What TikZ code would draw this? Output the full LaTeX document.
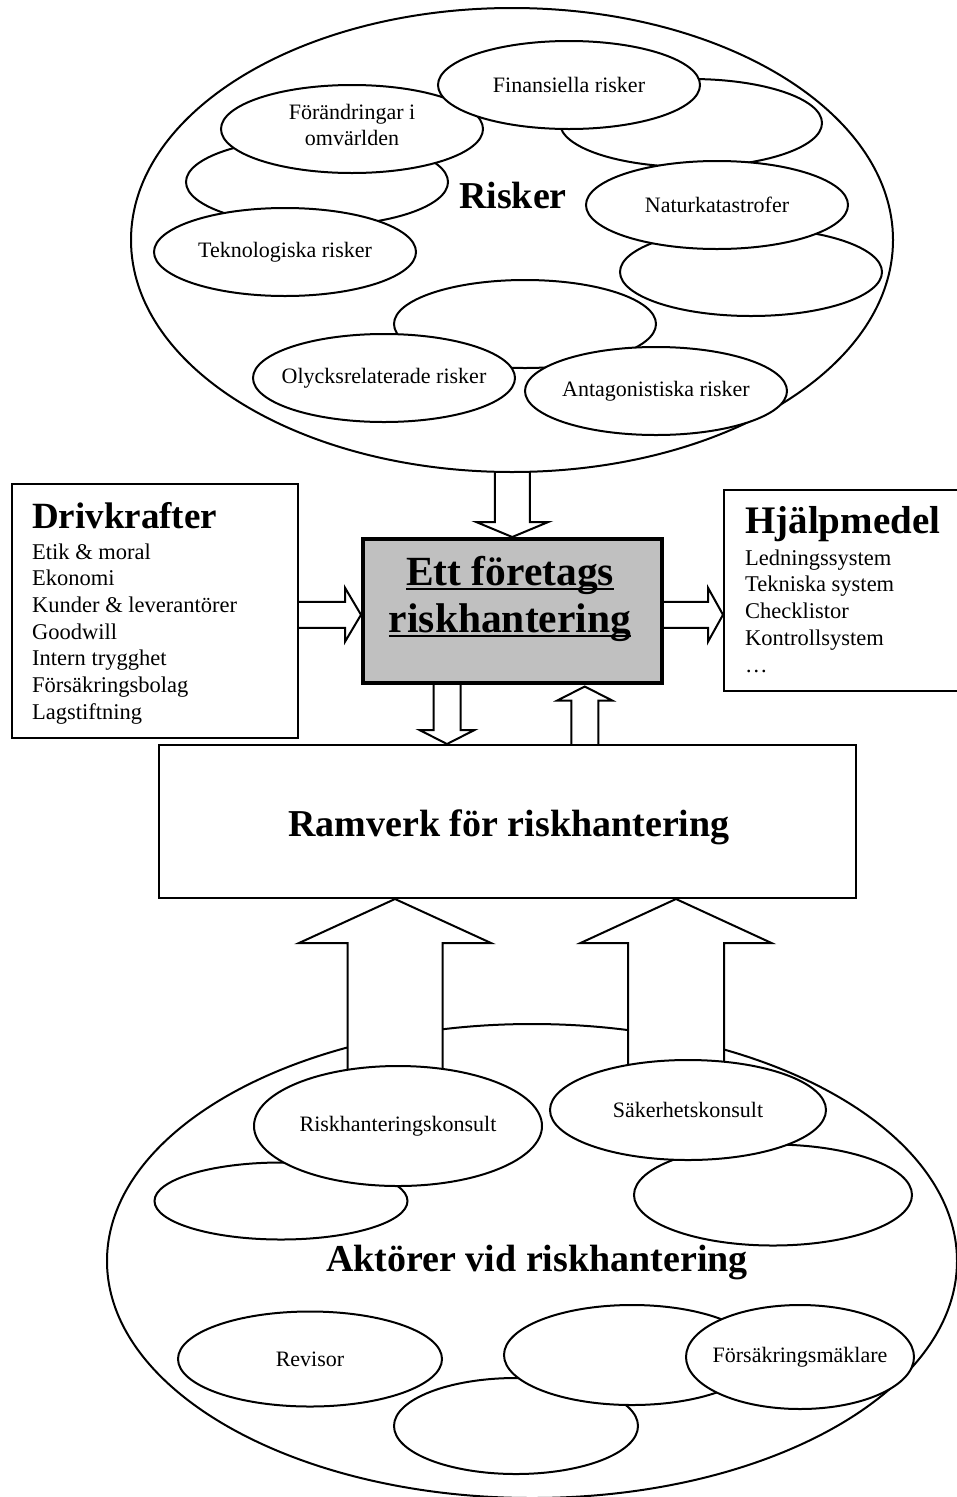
\documentclass[tikz,border=0pt]{standalone}
\usepackage{fontspec}
\setmainfont{Liberation Serif}
\usetikzlibrary{shapes.geometric,calc}
\pgfdeclarelayer{bg}
\pgfdeclarelayer{arr}
\pgfsetlayers{bg,arr,main}

\definecolor{coregray}{HTML}{C0C0C0}

% hollow block arrow: tip, angle, length, shaft half width, head half width, head length
\newcommand{\bigarrow}[6]{%
  \draw[blockarrow, shift={#1}, rotate=#2] (0,0) -- (-#6,#5) -- (-#6,#4) -- (-#3,#4)
    -- (-#3,-#4) -- (-#6,-#4) -- (-#6,-#5) -- cycle;}
% underline that crosses the descenders
\newcommand{\ulword}[1]{\setbox0\hbox{#1}\rlap{\rule[-5pt]{\wd0}{2.5pt}}\box0}

\tikzset{
  blob/.style={ellipse, draw, fill=white, line width=2pt, inner sep=0pt},
  rsk/.style={blob, minimum width=262pt, minimum height=88pt},
  lbl/.style={font=\fontsize{22}{26}\selectfont},
  box/.style={rectangle, draw, fill=white, line width=2pt, anchor=north west, inner sep=0pt},
  listtxt/.style={font=\fontsize{22.5}{27}\selectfont, anchor=base west, inner sep=0pt},
  titletxt/.style={font=\fontsize{38}{42}\selectfont\bfseries, inner sep=0pt},
  coretxt/.style={font=\fontsize{41.5}{47}\selectfont\bfseries, inner sep=0pt, anchor=base},
  blockarrow/.style={draw, fill=white, line width=2pt, line join=miter},
}

\begin{document}
\begin{tikzpicture}[x=1pt, y=-1pt]
\useasboundingbox (0,0) rectangle (957,1497);

% boxes in the middle
\node[box, minimum width=286pt, minimum height=254pt] (driv) at (11,483) {};
\node[box, minimum width=250pt, minimum height=201pt] (hjalp) at (723,489) {};
\node[box, fill=coregray, line width=3.5pt, minimum width=299pt, minimum height=144pt] (core) at (361,537) {};
\node[box, minimum width=697pt, minimum height=153pt] (ramverk) at (158,744) {};

% box texts
\node[titletxt, anchor=base] (ramverktxt) at ($(ramverk.center)+(1.5,14.5)$) {Ramverk för riskhantering};
\node[titletxt, font=\fontsize{37}{42}\selectfont\bfseries, anchor=base west] (drivtitle) at (32,528) {Drivkrafter};
\foreach \entry [count=\i] in {Etik \& moral, Ekonomi, Kunder \& leverantörer, Goodwill, Intern trygghet, Försäkringsbolag, Lagstiftning}
  \node[listtxt] (driv\i) at (32,{559+26.7*(\i-1)}) {\entry};
\node[titletxt, font=\fontsize{39}{42}\selectfont\bfseries, anchor=base west] (hjalptitle) at (745,533) {Hjälpmedel};
\foreach \entry [count=\i] in {Ledningssystem, Tekniska system, Checklistor, Kontrollsystem, \dots}
  \node[listtxt] (hjalp\i) at (745,{565+26.75*(\i-1)}) {\entry};
\node[coretxt] (core1) at (510,585) {\ulword{Ett företags}};
\node[coretxt] (core2) at (510,632) {\ulword{riskhantering}};

% risks
\node[blob, minimum width=762pt, minimum height=464pt] (risker) at (512,240) {};
\node[rsk] (blankr1) at (691,123) {};
\node[rsk] (blankl) at (317,182) {};
\node[rsk] (blankr2) at (751,272) {};
\node[rsk] (blankm) at (525,324) {};
\node[rsk, label={[lbl, align=center, yshift=4pt]center:{Förändringar i\\omvärlden}}] (forand) at (352,129) {};
\node[rsk, label={[lbl]center:Finansiella risker}] (finans) at (569,85) {};
\node[rsk, label={[lbl]center:Teknologiska risker}] (teknik) at (285,252) {};
\node[rsk, label={[lbl]center:Naturkatastrofer}] (natur) at (717,205) {};
\node[rsk, label={[lbl]center:Olycksrelaterade risker}] (olycka) at (384,378) {};
\node[rsk, label={[lbl]center:Antagonistiska risker}] (antag) at (656,391) {};
\node[titletxt, anchor=base] (riskertxt) at (513,208) {Risker};

% actors
\begin{pgfonlayer}{bg}
\fill[white] (0,0) rectangle (957,1497);
\node[blob, minimum width=850pt, minimum height=474pt] (aktorer) at (532,1261) {};
\end{pgfonlayer}
\node[blob, minimum width=253pt, minimum height=77pt] (blankbl) at (281,1201) {};
\node[blob, minimum width=288pt, minimum height=120pt, label={[lbl]center:Riskhanteringskonsult}] (riskkons) at (398,1126) {};
\node[blob, minimum width=278pt, minimum height=101pt] (blankbr) at (773,1195) {};
\node[blob, minimum width=276pt, minimum height=100pt, label={[lbl]center:Säkerhetskonsult}] (sakkons) at (688,1110) {};
\node[blob, minimum width=264pt, minimum height=95pt, label={[lbl]center:Revisor}] (revisor) at (310,1359) {};
\node[blob, minimum width=244pt, minimum height=96pt] (blankbb) at (516,1426) {};
\node[blob, minimum width=256pt, minimum height=100pt] (blankbm) at (632,1355) {};
\node[blob, minimum width=228pt, minimum height=104pt, label={[lbl]center:Försäkringsmäklare}] (forsak) at (800,1357) {};
\node[titletxt, anchor=base] (aktorertxt) at (537,1271) {Aktörer vid riskhantering};

% block arrows
\begin{pgfonlayer}{arr}
\bigarrow{(core.north)}{-90}{76}{17.5}{36}{15}
\bigarrow{($(core.west)+(0,4)$)}{0}{70}{13}{27}{16}
\bigarrow{($(core.east -| hjalp.west)+(0,4)$)}{0}{72}{13}{27}{15}
\bigarrow{($(ramverk.north)+(-60.5,0)$)}{-90}{72}{13.5}{27.5}{14}
\bigarrow{($(core.south)+(72.5,2)$)}{90}{72}{13.5}{27.5}{14}
\bigarrow{($(ramverk.south)+(-112.5,0)$)}{90}{190}{47.5}{96}{44}
\bigarrow{($(ramverk.south)+(168.5,0)$)}{90}{185}{48}{95.5}{44}
\end{pgfonlayer}
\end{tikzpicture}
\end{document}
